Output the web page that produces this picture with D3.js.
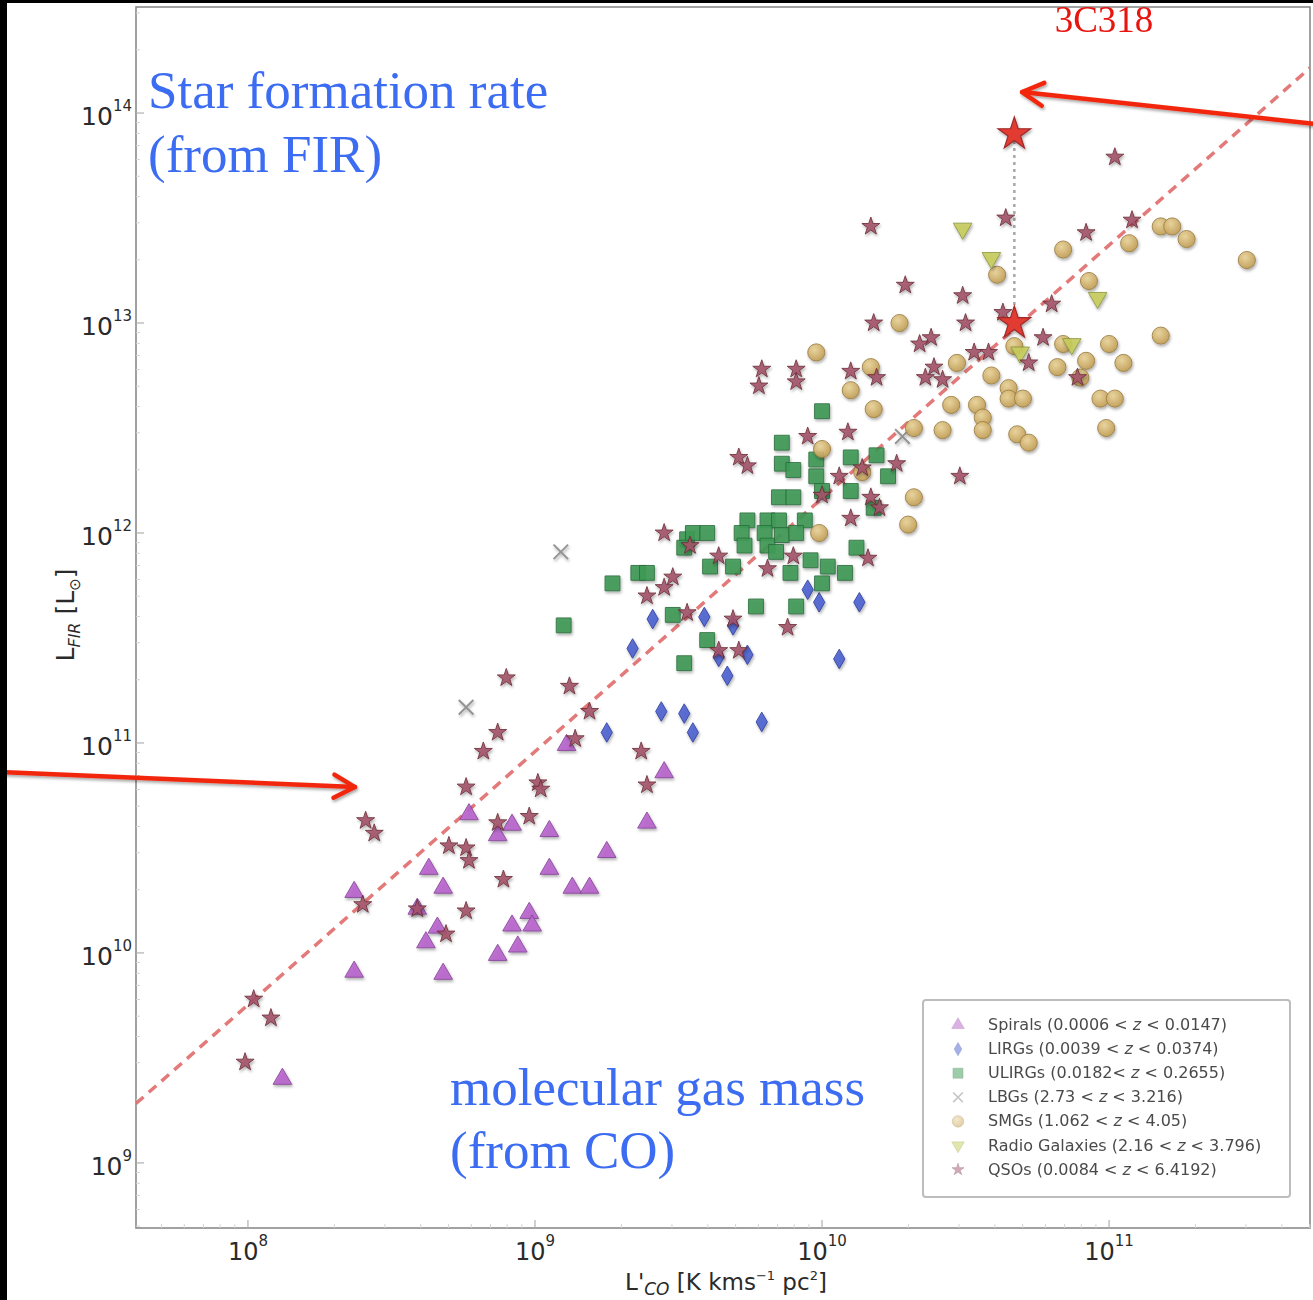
<!DOCTYPE html>
<html>
<head>
<meta charset="utf-8">
<script src="https://cdn.jsdelivr.net/npm/d3@7"></script>
<style>
  body { margin: 0; background: #fff; }
  svg { display: block; }
</style>
</head>
<body>
<div id="chart"></div>
<script>
// log10 values: [log L'CO, log L_FIR]
var spirals = [[9.11,10.99],[9.45,10.86],[9.39,10.62],[8.77,10.66],[8.92,10.61],[8.87,10.56],[9.05,10.58],
  [9.25,10.48],[8.63,10.40],[8.68,10.31],[9.05,10.40],[9.13,10.31],[9.19,10.31],[8.37,10.29],[8.98,10.19],
  [8.92,10.13],[8.99,10.13],[8.66,10.12],[8.62,10.05],[8.94,10.03],[8.87,9.99],[8.37,9.91],[8.68,9.90],
  [8.12,9.40],[8.59,10.21]];
var lirgs = [[9.41,11.59],[9.59,11.60],[9.69,11.56],[9.34,11.45],[9.64,11.41],[9.74,11.42],[9.67,11.32],
  [10.06,11.40],[9.95,11.73],[9.99,11.67],[10.13,11.67],[9.44,11.15],[9.52,11.14],[9.55,11.05],[9.25,11.05],
  [9.79,11.10]];
var ulirgs = [[9.86,12.43],[10.00,12.58],[9.86,12.33],[9.90,12.30],[9.98,12.35],[9.98,12.27],[10.00,12.20],
  [10.10,12.36],[10.19,12.37],[10.23,12.27],[10.10,12.20],[9.85,12.17],[9.90,12.17],[10.18,12.12],[9.74,12.06],
  [9.81,12.06],[9.85,12.06],[9.94,12.06],[9.72,12.00],[9.73,11.94],[9.80,12.00],[9.81,11.94],[9.86,11.99],
  [9.91,12.00],[9.84,11.91],[9.96,11.87],[10.02,11.84],[10.08,11.81],[9.89,11.81],[10.00,11.76],[10.12,11.93],
  [9.53,11.97],[9.55,12.00],[9.60,12.00],[9.52,11.93],[9.61,11.84],[9.69,11.84],[9.27,11.76],[9.36,11.81],
  [9.39,11.81],[9.77,11.65],[9.91,11.65],[9.48,11.61],[9.60,11.49],[9.52,11.38],[9.10,11.56]];
var lbgs = [[9.09,11.91],[8.76,11.17],[10.28,12.46]];
var smgs = [[11.18,13.46],[11.22,13.46],[11.27,13.40],[11.07,13.38],[10.84,13.35],[11.48,13.30],[10.61,13.23],
  [10.93,13.20],[10.27,13.00],[10.84,12.90],[11.00,12.90],[11.18,12.94],[10.67,12.89],[10.92,12.82],
  [11.05,12.81],[10.82,12.79],[10.47,12.81],[10.59,12.75],[10.90,12.74],[10.65,12.69],[10.65,12.64],
  [10.70,12.64],[10.97,12.64],[11.02,12.64],[10.54,12.61],[10.56,12.55],[10.56,12.49],[10.99,12.50],
  [10.68,12.47],[10.72,12.43],[9.98,12.86],[10.17,12.79],[10.10,12.68],[10.18,12.59],[10.45,12.61],
  [10.32,12.50],[10.42,12.49],[10.00,12.40],[10.14,12.29],[10.32,12.17],[10.30,12.04],[9.99,12.00]];
var radioGalaxies = [[10.49,13.45],[10.59,13.31],[10.96,13.12],[10.69,12.86],[10.87,12.90]];
var qsos = [[11.02,13.79],[10.64,13.50],[11.08,13.49],[10.92,13.43],[10.17,13.46],[10.29,13.18],[10.49,13.13],
  [10.18,13.00],[10.50,13.00],[10.63,13.05],[10.80,13.09],[10.77,12.93],[10.38,12.93],[10.34,12.90],
  [10.53,12.86],[10.58,12.86],[10.72,12.81],[10.39,12.79],[10.36,12.74],[10.42,12.73],[10.89,12.74],
  [9.79,12.78],[9.91,12.78],[9.78,12.70],[9.91,12.72],[10.10,12.77],[10.19,12.74],[9.95,12.46],[10.09,12.48],
  [9.71,12.36],[9.74,12.32],[10.06,12.27],[10.14,12.31],[10.26,12.33],[10.00,12.18],[10.17,12.17],
  [10.20,12.12],[10.48,12.27],[10.10,12.07],[9.64,11.89],[9.90,11.89],[10.16,11.88],[9.81,11.83],
  [9.45,12.00],[9.54,11.94],[9.48,11.79],[9.45,11.74],[9.39,11.70],[9.53,11.62],[9.69,11.59],[9.88,11.55],
  [9.64,11.44],[9.71,11.44],[8.90,11.31],[9.12,11.27],[9.19,11.15],[9.14,11.02],[8.87,11.05],[8.82,10.96],
  [9.37,10.96],[9.01,10.81],[9.02,10.78],[9.39,10.80],[8.76,10.79],[8.41,10.63],[8.44,10.57],[8.70,10.51],
  [8.76,10.50],[8.77,10.44],[8.98,10.65],[8.87,10.62],[8.89,10.35],[8.40,10.23],[8.59,10.21],[8.76,10.20],
  [8.69,10.09],[8.02,9.78],[8.08,9.69],[7.99,9.48]];
// 3C318: FIR-based and corrected positions
var source3C318 = [[10.67,13.90],[10.67,13.00]];

var xTickExps = [8, 9, 10, 11];
var yTickExps = [9, 10, 11, 12, 13, 14];
var fitSlope = 1.206, fitIntercept = 0.105;

var legendLabels = ["Spirals (0.0006 < z < 0.0147)", "LIRGs (0.0039 < z < 0.0374)",
  "ULIRGs (0.0182< z < 0.2655)", "LBGs (2.73 < z < 3.216)", "SMGs (1.062 < z < 4.05)",
  "Radio Galaxies (2.16 < z < 3.796)", "QSOs (0.0084 < z < 6.4192)"];

var W = 1313, H = 1300;
var plotL = 136, plotT = 7, plotR = 1310, plotB = 1228;

var svg = d3.select("#chart").append("svg")
    .attr("width", W)
    .attr("height", H);

var defs = svg.append("defs");
var f = defs.append("filter").attr("id", "shadow")
    .attr("x", "-50%").attr("y", "-50%").attr("width", "200%").attr("height", "200%");
f.append("feGaussianBlur").attr("in", "SourceAlpha").attr("stdDeviation", 1.6).attr("result", "b");
f.append("feOffset").attr("in", "b").attr("dx", 1.2).attr("dy", 1.8).attr("result", "o");
f.append("feComponentTransfer").attr("in", "o").attr("result", "s")
  .append("feFuncA").attr("type", "linear").attr("slope", 0.35);
f.append("feGaussianBlur").attr("in", "SourceGraphic").attr("stdDeviation", 0.7).attr("result", "g");
var fm = f.append("feMerge");
fm.append("feMergeNode").attr("in", "s");
fm.append("feMergeNode").attr("in", "g");

var arrowShadow = defs.append("filter").attr("id", "ashadow")
    .attr("x", "-10%").attr("y", "-50%").attr("width", "120%").attr("height", "200%");
arrowShadow.append("feDropShadow").attr("dx", 1).attr("dy", 2).attr("stdDeviation", 1.5)
    .attr("flood-color", "#000").attr("flood-opacity", 0.35);

var grad = defs.append("radialGradient").attr("id", "smgGrad")
    .attr("cx", "40%").attr("cy", "35%").attr("r", "65%");
grad.append("stop").attr("offset", "0%").attr("stop-color", "#ead49a");
grad.append("stop").attr("offset", "100%").attr("stop-color", "#c39f55");

defs.append("clipPath").attr("id", "plotClip").append("rect")
    .attr("x", plotL).attr("y", plotT).attr("width", plotR - plotL).attr("height", plotB - plotT);

var x = d3.scaleLog().domain([Math.pow(10, 7.61), Math.pow(10, 11.70)]).range([plotL, plotR]);
var y = d3.scaleLog().domain([Math.pow(10, 8.69), Math.pow(10, 14.505)]).range([plotB, plotT]);
function px(d) { return x(Math.pow(10, d[0])); }
function py(d) { return y(Math.pow(10, d[1])); }

// frame
svg.append("rect").attr("x", plotL).attr("y", plotT)
    .attr("width", plotR - plotL).attr("height", plotB - plotT)
    .attr("fill", "none").attr("stroke", "#8a8a8a").attr("stroke-width", 1.6);

// minor + major ticks (inward)
var minorX = [], minorY = [];
for (var e = 7; e <= 11; e++) for (var m = 2; m <= 9; m++) minorX.push(m * Math.pow(10, e));
for (var e2 = 8; e2 <= 14; e2++) for (var m2 = 2; m2 <= 9; m2++) minorY.push(m2 * Math.pow(10, e2));
minorX = minorX.filter(function(v) { return x(v) > plotL && x(v) < plotR; });
minorY = minorY.filter(function(v) { return y(v) > plotT && y(v) < plotB; });

var ticks = svg.append("g").attr("stroke", "#d4d4d4");
ticks.selectAll(".mx").data(minorX).enter().append("line")
    .attr("x1", function(d) { return x(d); }).attr("x2", function(d) { return x(d); })
    .attr("y1", plotB).attr("y2", plotB - 4);
ticks.selectAll(".my").data(minorY).enter().append("line")
    .attr("y1", function(d) { return y(d); }).attr("y2", function(d) { return y(d); })
    .attr("x1", plotL).attr("x2", plotL + 4);
var majors = svg.append("g").attr("stroke", "#b0b0b0").attr("stroke-width", 1.2);
majors.selectAll(".Mx").data(xTickExps).enter().append("line")
    .attr("x1", function(d) { return x(Math.pow(10, d)); }).attr("x2", function(d) { return x(Math.pow(10, d)); })
    .attr("y1", plotB).attr("y2", plotB - 8);
majors.selectAll(".My").data(yTickExps).enter().append("line")
    .attr("y1", function(d) { return y(Math.pow(10, d)); }).attr("y2", function(d) { return y(Math.pow(10, d)); })
    .attr("x1", plotL).attr("x2", plotL + 8);

// tick labels
var tickFont = "'DejaVu Sans', sans-serif";
var xl = svg.append("g").attr("font-family", tickFont).attr("fill", "#2a2a2a");
xTickExps.forEach(function(d) {
  var t = xl.append("text").attr("x", x(Math.pow(10, d))).attr("y", 1260)
      .attr("text-anchor", "middle").attr("font-size", 24);
  t.append("tspan").text("10");
  t.append("tspan").attr("dy", -14).attr("font-size", 15).text(d);
});
var yl = svg.append("g").attr("font-family", tickFont).attr("fill", "#2a2a2a");
yTickExps.forEach(function(d) {
  var t = yl.append("text").attr("x", 132).attr("y", y(Math.pow(10, d)) + 12)
      .attr("text-anchor", "end").attr("font-size", 25);
  t.append("tspan").text("10");
  t.append("tspan").attr("dy", -14).attr("font-size", 15).text(d);
});

// axis titles
var xt = svg.append("text").attr("x", 726).attr("y", 1290).attr("text-anchor", "middle")
    .attr("font-family", tickFont).attr("font-size", 23).attr("fill", "#2a2a2a");
xt.append("tspan").text("L'");
xt.append("tspan").attr("font-style", "italic").attr("font-size", 17).attr("dy", 5).text("CO");
xt.append("tspan").attr("dy", -5).text(" [K kms");
xt.append("tspan").attr("font-size", 13).attr("dy", -10).text("−1");
xt.append("tspan").attr("dy", 10).text(" pc");
xt.append("tspan").attr("font-size", 13).attr("dy", -10).text("2");
xt.append("tspan").attr("dy", 10).text("]");

var yt = svg.append("text").attr("transform", "translate(74,615) rotate(-90)")
    .attr("text-anchor", "middle").attr("font-family", tickFont).attr("font-size", 25).attr("fill", "#2a2a2a");
yt.append("tspan").text("L");
yt.append("tspan").attr("font-style", "italic").attr("font-size", 16).attr("dy", 6).text("FIR");
yt.append("tspan").attr("dy", -6).text(" [L");
yt.append("tspan").attr("font-size", 15).attr("dy", 6).text("⊙");
yt.append("tspan").attr("dy", -6).text("]");

var plot = svg.append("g").attr("clip-path", "url(#plotClip)");

// fit line
var lx0 = 7.61, lx1 = 11.70;
var fitLine = [[lx0, fitSlope * lx0 + fitIntercept], [lx1, fitSlope * lx1 + fitIntercept]];
plot.append("path").datum(fitLine)
    .attr("d", d3.line().x(px).y(py))
    .attr("stroke", "#e06a6a").attr("stroke-width", 3.5)
    .attr("stroke-dasharray", "10,7").attr("fill", "none").attr("opacity", 0.9);

// 3C318 dotted connector
plot.append("path").datum(source3C318)
    .attr("d", d3.line().x(px).y(py))
    .attr("stroke", "#a8a8a8").attr("stroke-width", 2.5)
    .attr("stroke-dasharray", "3,4").attr("fill", "none");

var timesType = d3.symbolTimes || d3.symbolX || d3.symbolCross;

var series = [
  {data: spirals, type: d3.symbolTriangle, size: 150, rot: 0, fill: "#b864cc", stroke: "#87449a"},
  {data: lirgs, type: d3.symbolDiamond, size: 110, rot: 0, fill: "#4d63d2", stroke: "#2d3e9c"},
  {data: ulirgs, type: d3.symbolSquare, size: 220, rot: 0, fill: "#3e9a56", stroke: "#2c6e3d"},
  {data: lbgs, type: timesType, size: 140, rot: 0, fill: "none", stroke: "#8a8a8a", line: true},
  {data: smgs, type: d3.symbolCircle, size: 230, rot: 0, fill: "url(#smgGrad)", stroke: "#9c7f43"},
  {data: radioGalaxies, type: d3.symbolTriangle, size: 150, rot: 180, fill: "#c7cc5c", stroke: "#8e9a3f"},
  {data: qsos, type: d3.symbolStar, size: 100, rot: 0, fill: "#a5546a", stroke: "#6d2e3a"}
];

series.forEach(function(s) {
  var g = plot.append("g").attr("filter", "url(#shadow)");
  g.selectAll("path").data(s.data).enter().append("path")
      .attr("d", d3.symbol().type(s.type).size(s.size))
      .attr("transform", function(d) {
        return "translate(" + px(d) + "," + py(d) + ") rotate(" + (s.type === d3.symbolCross ? 45 : s.rot) + ")";
      })
      .attr("fill", s.fill)
      .attr("stroke", s.stroke)
      .attr("stroke-width", s.line ? 2 : 1)
      .attr("opacity", 0.9);
});

// 3C318 big stars
plot.append("g").attr("filter", "url(#shadow)")
  .selectAll("path").data(source3C318).enter().append("path")
    .attr("d", d3.symbol().type(d3.symbolStar).size(330))
    .attr("transform", function(d) { return "translate(" + px(d) + "," + py(d) + ")"; })
    .attr("fill", "#e23a32").attr("stroke", "#9c2a2a").attr("stroke-width", 1.2);

// legend
var lg = svg.append("g");
lg.append("rect").attr("x", 923).attr("y", 1000).attr("width", 367).attr("height", 197)
    .attr("rx", 3).attr("fill", "#fff").attr("stroke", "#bdbdbd").attr("stroke-width", 2);
legendLabels.forEach(function(lab, i) {
  var s = series[i];
  var cy = 1025 + i * 24.1;
  lg.append("path")
      .attr("d", d3.symbol().type(s.type).size(s.size * 0.45))
      .attr("transform", "translate(958," + cy + ") rotate(" + (s.type === d3.symbolCross ? 45 : s.rot) + ")")
      .attr("fill", s.fill).attr("stroke", s.stroke).attr("stroke-width", s.line ? 1.5 : 0.6)
      .attr("opacity", 0.5);
  var parts = lab.split(" z ");
  var t = lg.append("text").attr("x", 988).attr("y", cy + 5)
      .attr("font-family", tickFont).attr("font-size", 16).attr("fill", "#4a4a4a");
  t.append("tspan").text(parts[0] + " ");
  t.append("tspan").attr("font-style", "italic").text("z");
  t.append("tspan").text(" " + parts[1]);
});

// annotations
var serif = "'Liberation Serif', 'Times New Roman', serif";
var blue = "#3c6cf2";
var a1 = svg.append("text").attr("font-family", serif).attr("font-size", 53).attr("fill", blue);
a1.append("tspan").attr("x", 148).attr("y", 108).text("Star formation rate");
a1.append("tspan").attr("x", 148).attr("y", 172).text("(from FIR)");
var a2 = svg.append("text").attr("font-family", serif).attr("font-size", 53).attr("fill", blue);
a2.append("tspan").attr("x", 450).attr("y", 1105).text("molecular gas mass");
a2.append("tspan").attr("x", 450).attr("y", 1168).text("(from CO)");
svg.append("text").attr("x", 1104).attr("y", 32).attr("text-anchor", "middle")
    .attr("font-family", serif).attr("font-size", 37).attr("fill", "#e8140e").text("3C318");

// red arrows (in data coordinates)
var arrows = [
  {from: [11.72, 13.948], to: [10.697, 14.10]},
  {from: [7.136, 10.862], to: [8.373, 10.79]}
];
var ag = svg.append("g").attr("filter", "url(#ashadow)")
    .attr("stroke", "#f2270c").attr("stroke-width", 4.5).attr("fill", "none")
    .attr("stroke-linecap", "round").attr("stroke-linejoin", "round");
arrows.forEach(function(a) {
  var x0 = px(a.from), y0 = py(a.from), x1 = px(a.to), y1 = py(a.to);
  var ang = Math.atan2(y1 - y0, x1 - x0), L = 24, spread = 0.5;
  ag.append("line").attr("x1", x0).attr("y1", y0).attr("x2", x1).attr("y2", y1);
  ag.append("path").attr("d",
    "M" + (x1 - L * Math.cos(ang - spread)) + "," + (y1 - L * Math.sin(ang - spread)) +
    "L" + x1 + "," + y1 +
    "L" + (x1 - L * Math.cos(ang + spread)) + "," + (y1 - L * Math.sin(ang + spread)));
});

// black borders of the screenshot
svg.append("rect").attr("x", 0).attr("y", 0).attr("width", 7).attr("height", H).attr("fill", "#000");
svg.append("rect").attr("x", 0).attr("y", 0).attr("width", W).attr("height", 3).attr("fill", "#000");
</script>
</body>
</html>
